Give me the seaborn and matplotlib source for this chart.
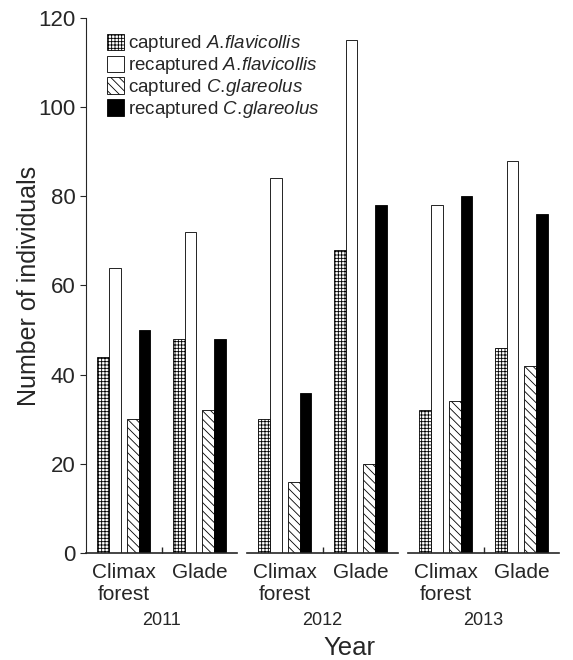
import pandas as pd
import matplotlib
matplotlib.use('Agg')
import matplotlib.pyplot as plt
from matplotlib.patches import Patch
import seaborn as sns

# 数据
years = ['2011', '2012', '2013']
habitats = ['Climax\nforest', 'Glade']
series = ['capA', 'recapA', 'capC', 'recapC']
series_labels = [r'captured $\mathit{A.\!flavicollis}$',
                 r'recaptured $\mathit{A.\!flavicollis}$',
                 r'captured $\mathit{C.\!glareolus}$',
                 r'recaptured $\mathit{C.\!glareolus}$']
# each list: [2011 climax, 2011 glade, 2012 climax, 2012 glade, 2013 climax, 2013 glade]
captured_af = [44, 48, 30, 68, 32, 46]
recaptured_af = [64, 72, 84, 115, 78, 88]
captured_cg = [30, 32, 16, 20, 34, 42]
recaptured_cg = [50, 48, 36, 78, 80, 76]

sns.set_style('ticks')
plt.rcParams['font.family'] = ['Liberation Sans', 'DejaVu Sans']
plt.rcParams['mathtext.fontset'] = 'custom'
plt.rcParams['mathtext.it'] = 'Liberation Sans:italic'
plt.rcParams['mathtext.rm'] = 'Liberation Sans'
plt.rcParams['hatch.linewidth'] = 0.6

rows = []
for vals, s in zip([captured_af, recaptured_af, captured_cg, recaptured_cg], series):
    for i, v in enumerate(vals):
        rows.append({'year': years[i // 2], 'habitat': habitats[i % 2],
                     'series': s, 'value': v})
df = pd.DataFrame(rows)

faces = ['white', 'white', 'white', 'black']
hatches = ['+++++', '', '\\\\\\\\', '']
shifts = [-0.04, -0.04, 0.04, 0.04]

fig = plt.figure(figsize=(5.73, 6.6), dpi=100)
left, w, gap = 0.150, 0.264, 0.017
axes = []
for k, yr in enumerate(years):
    ax = fig.add_axes([left + k * (w + gap), 0.162, w, 0.811])
    sub = df[df['year'] == yr]
    sns.barplot(data=sub, x='habitat', y='value', hue='series', hue_order=series,
                order=habitats, palette=faces, saturation=1, width=0.62,
                edgecolor='black', linewidth=0.6, legend=False, ax=ax, errorbar=None)
    for cont, h, sh in zip(ax.containers, hatches, shifts):
        for p in cont:
            p.set_hatch(h)
            p.set_x(p.get_x() + sh)
    ax.set_xlim(-0.5, 1.5)
    ax.set_ylim(0, 120)
    ax.set_xlabel(yr, fontsize=13, labelpad=6)
    ax.set_ylabel('')
    ax.tick_params(axis='x', length=0, labelsize=15, pad=7)
    ax.set_xticks([0.5], minor=True)
    ax.tick_params(axis='x', which='minor', direction='in', length=4, width=1)
    ax.spines['top'].set_visible(False)
    ax.spines['right'].set_visible(False)
    ax.spines['bottom'].set_linewidth(1.2)
    if k == 0:
        ax.set_yticks(range(0, 121, 20))
        ax.tick_params(axis='y', labelsize=16, direction='out', length=4)
        ax.set_ylabel('Number of individuals', fontsize=18)
        ax.yaxis.set_label_coords(-0.30, 0.5)
    else:
        ax.spines['left'].set_visible(False)
        ax.set_yticks([])
    axes.append(ax)

handles = [Patch(facecolor=f, edgecolor='black', hatch=h, linewidth=0.6)
           for f, h in zip(faces, hatches)]
leg = fig.legend(handles, series_labels, loc='upper left', frameon=False,
                 fontsize=13.5, handlelength=0.9, handleheight=1.0,
                 handletextpad=0.2, labelspacing=0.05,
                 bbox_to_anchor=(0.158, 0.975))

fig.text(0.61, 0.0, 'Year', ha='center', va='bottom', fontsize=18.5)

fig.savefig('out.png', dpi=100)
